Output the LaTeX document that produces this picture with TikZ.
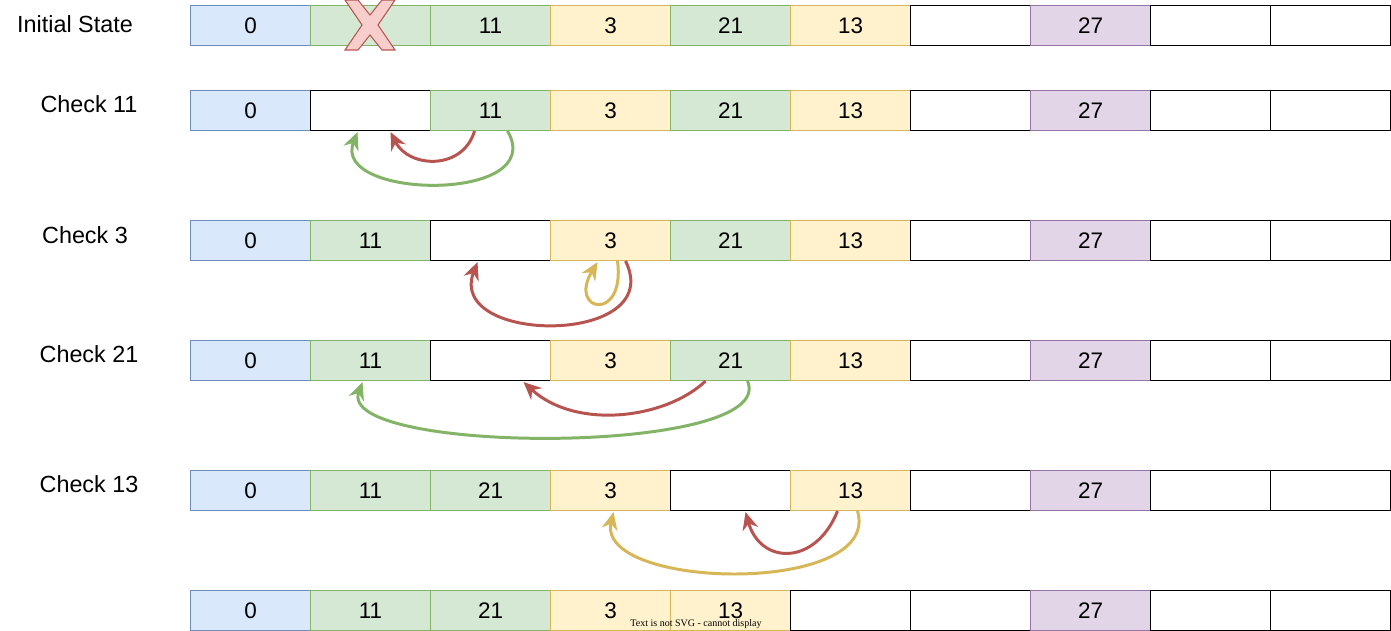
\documentclass[tikz,border=0pt]{standalone}
\usepackage{fontspec}
\setmainfont{Liberation Sans}
\newfontfamily\notefont{Liberation Serif}
\usepackage{tikz}
\usetikzlibrary{arrows.meta,calc}
\definecolor{bluefill}{HTML}{DAE8FC}
\definecolor{blueline}{HTML}{6C8EBF}
\definecolor{greenfill}{HTML}{D5E8D4}
\definecolor{greenline}{HTML}{82B366}
\definecolor{yellowfill}{HTML}{FFF2CC}
\definecolor{yellowline}{HTML}{D6B656}
\definecolor{purplefill}{HTML}{E1D5E7}
\definecolor{purpleline}{HTML}{9673A6}
\definecolor{redfill}{HTML}{F8CECC}
\definecolor{redline}{HTML}{B85450}
\definecolor{whitefill}{HTML}{FFFFFF}
\definecolor{whiteline}{HTML}{000000}

\begin{document}
\begin{tikzpicture}[x=0.02cm, y=-0.02cm,
    cell/.style={rectangle, draw=#1line, fill=#1fill, line width=0.6pt,
                 minimum width=2.4cm, minimum height=0.8cm, inner sep=0pt,
                 anchor=north west, font=\fontsize{12.8}{15}\selectfont},
    lbl/.style={font=\fontsize{13.3}{16}\selectfont},
    arr/.style={-{Stealth[length=10pt,width=9pt]}, line width=1.7pt},
    redarr/.style={arr, draw=redline},
    greenarr/.style={arr, draw=greenline},
    yellowarr/.style={arr, draw=yellowline}
  ]
  \useasboundingbox (0,0) rectangle (1391,631);

  % row labels
  \node[lbl] (init) at (75,24)  {Initial State};
  \node[lbl] (chk11) at (89,104) {Check 11};
  \node[lbl] (chk3)  at (85,235) {Check 3};
  \node[lbl] (chk21) at (89,354) {Check 21};
  \node[lbl] (chk13) at (89,484) {Check 13};

  % arrays
  \foreach \c/\t [count=\i] in {blue/0, green/{}, green/11, yellow/3, green/21, yellow/13, white/{}, purple/27, white/{}, white/{}}
    \node[cell=\c] (r1c\i) at ({190+120*(\i-1)},5) {\t};
  \foreach \c/\t [count=\i] in {blue/0, white/{}, green/11, yellow/3, green/21, yellow/13, white/{}, purple/27, white/{}, white/{}}
    \node[cell=\c] (r2c\i) at ({190+120*(\i-1)},90) {\t};
  \foreach \c/\t [count=\i] in {blue/0, green/11, white/{}, yellow/3, green/21, yellow/13, white/{}, purple/27, white/{}, white/{}}
    \node[cell=\c] (r3c\i) at ({190+120*(\i-1)},220) {\t};
  \foreach \c/\t [count=\i] in {blue/0, green/11, white/{}, yellow/3, green/21, yellow/13, white/{}, purple/27, white/{}, white/{}}
    \node[cell=\c] (r4c\i) at ({190+120*(\i-1)},340) {\t};
  \foreach \c/\t [count=\i] in {blue/0, green/11, green/21, yellow/3, white/{}, yellow/13, white/{}, purple/27, white/{}, white/{}}
    \node[cell=\c] (r5c\i) at ({190+120*(\i-1)},470) {\t};
  \foreach \c/\t [count=\i] in {blue/0, green/11, green/21, yellow/3, yellow/13, white/{}, white/{}, purple/27, white/{}, white/{}}
    \node[cell=\c] (r6c\i) at ({190+120*(\i-1)},590) {\t};

  % deleted entry
  \draw[fill=redfill, draw=redline, line width=0.6pt]
    (345,0) -- (358,0) -- (370,15) -- (382,0) -- (395,0) -- (378,25) -- (395,50)
    -- (382,50) -- (370,35) -- (358,50) -- (345,50) -- (362,25) -- cycle;

  % Check 11
  \draw[redarr] ($(r2c3.south)+(-16,0)$) .. controls +(-12,40) and +(18,36) .. ($(r2c2.south)+(20,1)$);
  \draw[greenarr] ($(r2c3.south)+(17,0)$) .. controls +(42,72) and +(-27,68) .. ($(r2c2.south)+(-13,1)$);

  % Check 3
  \draw[yellowarr] ($(r3c4.south)+(7,0)$) .. controls +(8,62) and +(-30,50) .. ($(r3c4.south)+(-13,1)$);
  \draw[redarr] ($(r3c4.south)+(15,0)$) .. controls +(42,85) and +(-32,83) .. ($(r3c3.south)+(-13,1)$);

  % Check 21
  \draw[redarr] ($(r4c5.south)+(-25,0)$) .. controls +(-40,38) and +(52,48) .. ($(r4c3.south)+(33,1)$);
  \draw[greenarr] ($(r4c5.south)+(17,0)$) .. controls +(32,75) and +(-27,73) .. ($(r4c2.south)+(-8,1)$);

  % Check 13
  \draw[redarr] ($(r5c6.south)+(-13,0)$) .. controls +(-22,55) and +(15,53) .. ($(r5c5.south)+(15,1)$);
  \draw[yellowarr] ($(r5c6.south)+(7,0)$) .. controls +(25,85) and +(-18,78) .. ($(r5c4.south)+(3,1)$);

  \node[font=\notefont\fontsize{5.7}{7}\selectfont] (note) at (696,624) {Text is not SVG - cannot display};
\end{tikzpicture}
\end{document}
